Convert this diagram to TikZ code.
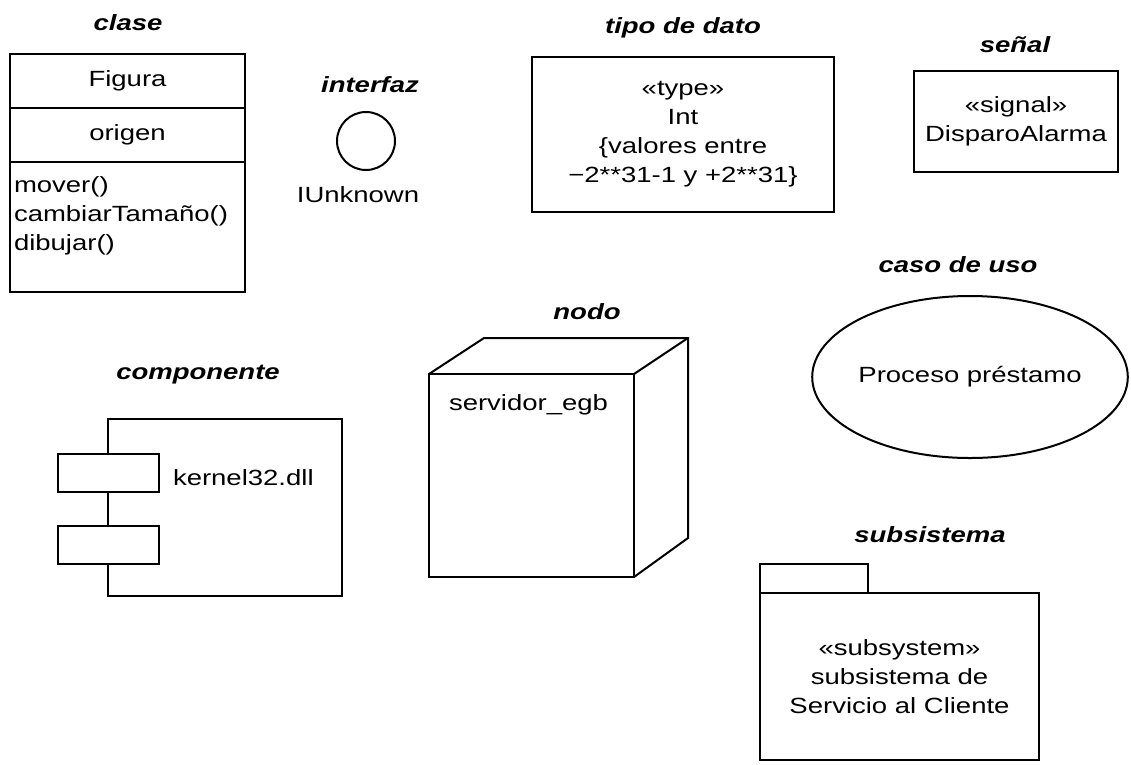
\documentclass[tikz,border=0pt]{standalone}
\usepackage{fontspec}
\setmainfont{Liberation Sans}[FakeStretch=1.25]
\usepackage{tikz}
\usetikzlibrary{positioning, shapes.geometric}

\tikzset{
  title/.style={font=\fontsize{22}{29}\selectfont\bfseries\itshape},
  comp/.style={draw, minimum width=235pt, inner sep=0pt, outer sep=0pt},
  puerto/.style={draw, fill=white, minimum width=101pt, minimum height=38pt, inner sep=0pt, outer sep=0pt},
  caja/.style={draw, inner sep=0pt, outer sep=0pt, align=center},
}

\begin{document}
\begin{tikzpicture}[x=1pt, y=-1pt, line width=2pt,
    every node/.append style={font=\fontsize{22}{29}\selectfont}]

    \useasboundingbox (0,0) rectangle (1131,764);

    % clase
    \node[comp, minimum height=54pt, anchor=north west] (nombre) at (10,54) {Figura};
    \node[comp, minimum height=54pt, below=0pt of nombre] (atrib) {origen};
    \node[comp, minimum height=130pt, below=0pt of atrib] (oper) {};
    \node[anchor=west, align=left, inner sep=0pt] (ops) at (13,216) {mover()\\cambiarTamaño()\\dibujar()};
    \node[title] (t-clase) at (128,23) {clase};

    % interfaz
    \node[draw, circle, minimum size=58pt, inner sep=0pt] (iface) at (366,141) {};
    \node (iunk) at (358,195) {IUnknown};
    \node[title] (t-iface) at (370,85) {interfaz};

    % tipo de dato
    \node[caja, minimum width=302pt, minimum height=155pt] (tipo) at (683,134.5)
        {«type»\\Int\\\{valores entre\\−2**31-1 y +2**31\}};
    \node[title] (t-tipo) at (683,28) {tipo de dato};

    % senal
    \node[caja, minimum width=204pt, minimum height=101pt] (senal) at (1016,121.5)
        {«signal»\\DisparoAlarma};
    \node[title] (t-senal) at (1015,45) {señal};

    % caso de uso
    \node[draw, ellipse, minimum width=314pt, minimum height=162pt, inner sep=0pt] (caso) at (970,377) {Proceso préstamo};
    \node[title] (t-caso) at (958,265) {caso de uso};

    % nodo
    \node[caja, minimum width=205pt, minimum height=203pt] (srv) at (531.5,475.5) {};
    \draw (srv.north west) -- ++(55,-36) coordinate (b1) -- ++(204,0) coordinate (b2) -- ++(0,200) -- (srv.south east);
    \draw (b2) -- (srv.north east);
    \node[anchor=west, inner sep=0pt] (srv-txt) at (448,405) {servidor\_egb};
    \node[title] (t-nodo) at (587,312) {nodo};

    % componente
    \node[caja, minimum width=234pt, minimum height=177pt] (comp) at (225,507.5) {};
    \node[puerto] (p1) at (108.5,473) {};
    \node[puerto, below=34pt of p1] (p2) {};
    \node[anchor=west, inner sep=0pt] (dll) at (172,478) {kernel32.dll};
    \node[title] (t-comp) at (198,375) {componente};

    % subsistema
    \node[caja, minimum width=108pt, minimum height=29pt, anchor=south west] (tab) at (760,593) {};
    \node[caja, minimum width=279pt, minimum height=167pt, anchor=north west] (subsis) at (760,593)
        {«subsystem»\\subsistema de\\Servicio al Cliente};
    \node[title] (t-subsis) at (930,535) {subsistema};

\end{tikzpicture}
\end{document}
